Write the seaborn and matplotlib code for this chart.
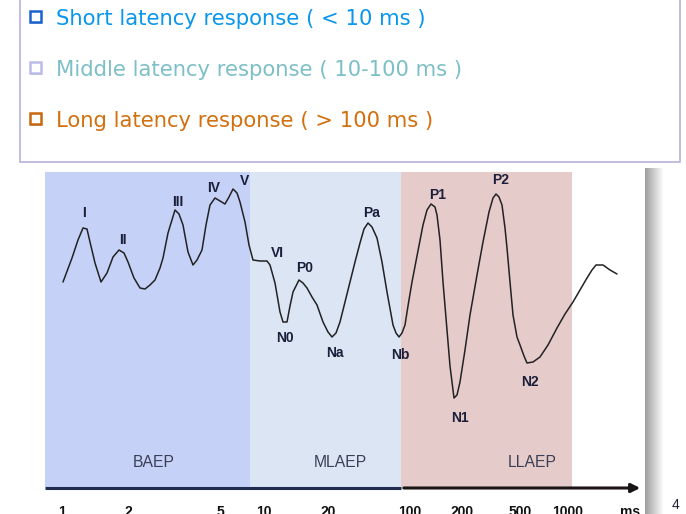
import numpy as np
import matplotlib
matplotlib.use("Agg")
import matplotlib.pyplot as plt
import seaborn as sns
import pandas as pd
from matplotlib.patches import Rectangle

# datos (coordenadas en pixeles de la diapositiva)
wave_x = [63, 72, 78, 83, 87, 90, 95, 101, 107, 113, 119, 124, 128, 134, 140, 145, 150, 155,
          160, 163, 168, 175, 179, 183, 188, 193, 197, 202, 206, 210, 215, 220, 225, 229, 233,
          237, 240, 245, 249, 253, 260, 267, 270, 275, 280, 283, 287, 290, 293, 299, 303, 307,
          312, 317, 323, 328, 332, 336, 340, 345, 350, 355, 360, 364, 368, 372, 377, 382, 387,
          393, 396, 399, 402, 405, 408, 412, 417, 423, 427, 431, 435, 437, 440, 443, 447, 450,
          454, 457, 460, 465, 470, 477, 483, 489, 493, 496, 499, 502, 505, 507, 510, 513, 517,
          520, 524, 527, 533, 540, 548, 557, 565, 573, 580, 587, 592, 596, 603, 610, 617]
wave_y = [282, 258, 240, 228, 229, 242, 263, 282, 273, 257, 250, 253, 262, 278, 288, 289, 285, 280,
          268, 258, 233, 210, 214, 225, 252, 265, 260, 250, 225, 205, 198, 201, 204, 197, 189,
          193, 202, 222, 245, 260, 261, 261, 265, 283, 312, 322, 322, 306, 292, 280, 283, 288,
          297, 305, 322, 332, 337, 333, 322, 302, 282, 262, 243, 229, 223, 227, 238, 262, 292,
          325, 333, 337, 333, 325, 306, 282, 256, 225, 210, 204, 207, 215, 240, 282, 330, 366,
          398, 395, 382, 350, 315, 275, 242, 212, 198, 194, 197, 205, 228, 248, 282, 315, 337,
          345, 356, 363, 362, 357, 345, 328, 314, 302, 290, 278, 270, 265, 265, 270, 274]

peak_names = ["I", "II", "III", "IV", "V", "VI", "P0", "N0", "Na", "Pa", "Nb", "P1", "P2", "N1", "N2"]
peak_x = [84, 123, 178, 214, 245, 277, 305, 285, 335, 372, 400, 438, 501, 460, 530]
peak_y = [213, 240, 202, 188, 181, 253, 268, 338, 353, 213, 355, 195, 180, 418, 382]

region_names = ["BAEP", "MLAEP", "LLAEP"]
region_start = [45, 250, 401]
region_end = [250, 401, 572]
region_colors = ["#c6d1f8", "#dbe5f4", "#e6cbcb"]
region_label_x = [154, 340, 532]

tick_labels = ["1", "2", "5", "10", "20", "100", "200", "500", "1000", "ms"]
tick_pos = [62, 128, 220, 264, 328, 410, 462, 520, 568, 630]

bullet_texts = ["Short latency response ( < 10 ms )",
                "Middle latency response ( 10-100 ms )",
                "Long latency response ( > 100 ms )"]
bullet_colors = ["#0a96ec", "#7dbfc7", "#d2700f"]
box_colors = ["#1a62d0", "#b9bde8", "#c8680e"]
bullet_y = [19, 70, 121]

sns.set_theme(style="white")
plt.rcParams['font.family'] = ['DejaVu Sans']

fig = plt.figure(figsize=(6.86, 5.14), dpi=100)
ax = fig.add_axes([0, 0, 1, 1])

# cuadro superior
ax.add_patch(Rectangle((20, -5), 660, 167, facecolor="white", edgecolor="#b7b0dc", lw=1.2, zorder=1))
for txt, c, bc, y in zip(bullet_texts, bullet_colors, box_colors, bullet_y):
    ax.add_patch(Rectangle((31, y - 6), 11, 11, facecolor="#888888", edgecolor="none", zorder=2, alpha=0.5))
    ax.add_patch(Rectangle((30, y - 8), 11, 11, facecolor="white", edgecolor=bc, lw=1.8, zorder=2))
    ax.text(56, y, txt, color=c, fontsize=15.2, va="center", ha="left", zorder=3)

# sombra derecha
grad = np.linspace(0.62, 1.0, 40).reshape(1, -1)
ax.imshow(grad, cmap="gray", vmin=0, vmax=1, extent=[645, 664, 514, 168], aspect="auto", zorder=1)

# regiones
for name, x0, x1, col, lx in zip(region_names, region_start, region_end, region_colors, region_label_x):
    ax.add_patch(Rectangle((x0, 172), x1 - x0, 315, facecolor=col, edgecolor="none", zorder=2))
    ax.text(lx, 462.5, name, fontsize=11.3, color="#3a3f55", ha="center", va="center", zorder=4,
            family=["Liberation Sans", "DejaVu Sans"])

# curva
df = pd.DataFrame({"x": wave_x, "y": wave_y})
sns.lineplot(data=df, x="x", y="y", sort=False, estimator=None, color="#222222", lw=1.1, ax=ax, zorder=5)

for n, x, y in zip(peak_names, peak_x, peak_y):
    ax.text(x, y, n, fontsize=10, fontweight="bold", color="#1b1f3a", ha="center", va="center", zorder=6,
            family=["Liberation Sans Narrow", "Liberation Sans", "DejaVu Sans"])

# eje con flecha
ax.plot([45, 401], [488, 488], color="#1f2c4d", lw=2.2, zorder=6, solid_capstyle="butt")
ax.annotate("", xy=(643, 488), xytext=(401, 488),
            arrowprops=dict(arrowstyle="-|>", color="#1a1414", lw=2.2, mutation_scale=13), zorder=6)

for lab, x in zip(tick_labels, tick_pos):
    ax.text(x, 505, lab, fontsize=10, fontweight="bold", color="#111111", ha="center", va="top", zorder=6,
            family=["Liberation Sans", "DejaVu Sans"])

ax.text(676, 505, "4", fontsize=10, color="#222233", ha="center", va="center", zorder=6,
        family=["Liberation Sans", "DejaVu Sans"])

ax.set_xlim(0, 686)
ax.set_ylim(514, 0)
ax.axis("off")

fig.savefig("out.png", dpi=100)
